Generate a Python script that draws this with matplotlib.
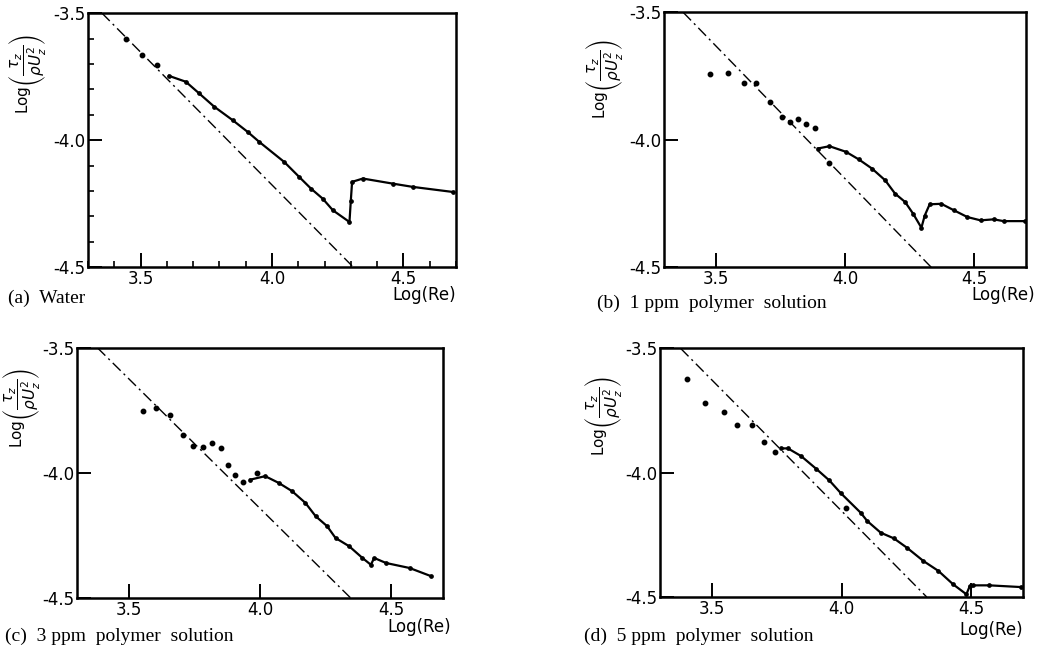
import matplotlib
matplotlib.use('Agg')
import matplotlib.pyplot as plt
from matplotlib.ticker import MultipleLocator, NullLocator


# dash-dot reference line ends (x, y) for each panel
ref_a = ([3.353, 4.31], [-3.5, -4.5])
ref_b = ([3.373, 4.333], [-3.5, -4.5])
ref_c = ([3.378, 4.346], [-3.5, -4.5])
ref_d = ([3.379, 4.329], [-3.5, -4.5])

# (a) water
dots_a_x = [3.443, 3.506, 3.564]
dots_a_y = [-3.603, -3.664, -3.704]
curve_a_x = [3.608, 3.672, 3.723, 3.780, 3.850, 3.907, 3.952, 4.047, 4.104, 4.149,
             4.193, 4.232, 4.295, 4.300, 4.305, 4.346, 4.460, 4.537, 4.690]
curve_a_y = [-3.747, -3.770, -3.816, -3.868, -3.921, -3.967, -4.007, -4.086, -4.145, -4.191,
             -4.230, -4.276, -4.322, -4.240, -4.164, -4.151, -4.171, -4.184, -4.204]

# (b) 1 ppm
dots_b_x = [3.475, 3.548, 3.608, 3.656, 3.707, 3.754, 3.786, 3.818, 3.850, 3.882, 3.939]
dots_b_y = [-3.741, -3.739, -3.778, -3.778, -3.850, -3.909, -3.929, -3.919, -3.938, -3.955, -4.091]
curve_b_x = [3.894, 3.939, 4.003, 4.053, 4.104, 4.155, 4.193, 4.232, 4.263, 4.295,
             4.308, 4.327, 4.372, 4.422, 4.473, 4.524, 4.575, 4.613, 4.696]
curve_b_y = [-4.034, -4.025, -4.047, -4.077, -4.113, -4.159, -4.211, -4.244, -4.290, -4.345,
             -4.297, -4.253, -4.251, -4.277, -4.303, -4.316, -4.312, -4.319, -4.319]

# (c) 3 ppm
dots_c_x = [3.551, 3.603, 3.654, 3.705, 3.744, 3.782, 3.814, 3.850, 3.878, 3.904, 3.936, 3.987]
dots_c_y = [-3.753, -3.739, -3.769, -3.847, -3.893, -3.897, -3.880, -3.900, -3.967, -4.007, -4.036, -4.000]
curve_c_x = [3.962, 4.019, 4.071, 4.122, 4.173, 4.212, 4.256, 4.288, 4.340, 4.391,
             4.423, 4.436, 4.481, 4.571, 4.654]
curve_c_y = [-4.027, -4.013, -4.040, -4.073, -4.120, -4.173, -4.213, -4.260, -4.293, -4.340,
             -4.367, -4.340, -4.360, -4.380, -4.413]

# (d) 5 ppm
dots_d_x = [3.402, 3.474, 3.545, 3.598, 3.653, 3.700, 3.742, 4.017]
dots_d_y = [-3.621, -3.718, -3.755, -3.808, -3.808, -3.875, -3.915, -4.141]
curve_d_x = [3.768, 3.793, 3.844, 3.902, 3.953, 3.998, 4.074, 4.099, 4.151, 4.202,
             4.253, 4.316, 4.374, 4.431, 4.482, 4.495, 4.508, 4.571, 4.694]
curve_d_y = [-3.902, -3.902, -3.933, -3.984, -4.031, -4.083, -4.161, -4.194, -4.241, -4.264,
             -4.302, -4.355, -4.395, -4.449, -4.489, -4.456, -4.453, -4.453, -4.460]

captions = ['(a)  Water', '(b)  1 ppm  polymer  solution',
            '(c)  3 ppm  polymer  solution', '(d)  5 ppm  polymer  solution']

ylab = r'Log$\left(\dfrac{\tau_z}{\rho U_z^2}\right)$'

fig = plt.figure(figsize=(10.48, 6.55), dpi=100)

panels = [
    ([0.084, 0.592, 0.351, 0.388], ref_a, dots_a_x, dots_a_y, curve_a_x, curve_a_y, True, 0.76, -0.11),
    ([0.634, 0.592, 0.345, 0.389], ref_b, dots_b_x, dots_b_y, curve_b_x, curve_b_y, False, 0.74, -0.11),
    ([0.0735, 0.087, 0.3495, 0.382], ref_c, dots_c_x, dots_c_y, curve_c_x, curve_c_y, False, 0.76, -0.095),
    ([0.630, 0.0885, 0.346, 0.3795], ref_d, dots_d_x, dots_d_y, curve_d_x, curve_d_y, False, 0.73, -0.10),
]

cap_pos = [(0.008, 0.538), (0.570, 0.530), (0.005, 0.021), (0.557, 0.021)]
re_pos = [(0.435, 0.542), (0.988, 0.542), (0.430, 0.035), (0.976, 0.030)]

for i, (rect, ref, dx, dy, cx, cy, minors, ly, lx) in enumerate(panels):
    ax = fig.add_axes(rect)
    ax.plot(ref[0], ref[1], color='black', lw=1.0, ls='-.', dashes=(8, 3, 1.5, 3))
    ax.plot(cx, cy, color='black', lw=1.6, marker='o', ms=2.4)
    ax.plot(dx, dy, 'o', color='black', ms=3.2, ls='none')

    ax.set_xlim(3.3, 4.7)
    ax.set_ylim(-4.5, -3.5)
    ax.set_xticks([3.5, 4.0, 4.5])
    ax.set_xticklabels(['3.5', '4.0', '4.5'])
    ax.set_yticks([-3.5, -4.0, -4.5])
    ax.set_yticklabels(['-3.5', '-4.0', '-4.5'])
    if minors:
        ax.xaxis.set_minor_locator(MultipleLocator(0.1))
        ax.yaxis.set_minor_locator(MultipleLocator(0.1))
    else:
        ax.xaxis.set_minor_locator(NullLocator())
        ax.yaxis.set_minor_locator(NullLocator())
    ax.tick_params(which='major', direction='in', length=10, width=1.4, labelsize=12, pad=2)
    ax.tick_params(which='minor', direction='in', length=4, width=1.2)
    for s in ax.spines.values():
        s.set_linewidth(1.8)

    ax.set_ylabel(ylab, fontsize=11)
    ax.yaxis.set_label_coords(lx, ly)

    fig.text(cap_pos[i][0], cap_pos[i][1], captions[i], family='Liberation Serif',
             fontsize=14, ha='left', va='baseline')
    fig.text(re_pos[i][0], re_pos[i][1], 'Log(Re)', fontsize=12, ha='right', va='baseline')

fig.savefig('out.png', dpi=100)
